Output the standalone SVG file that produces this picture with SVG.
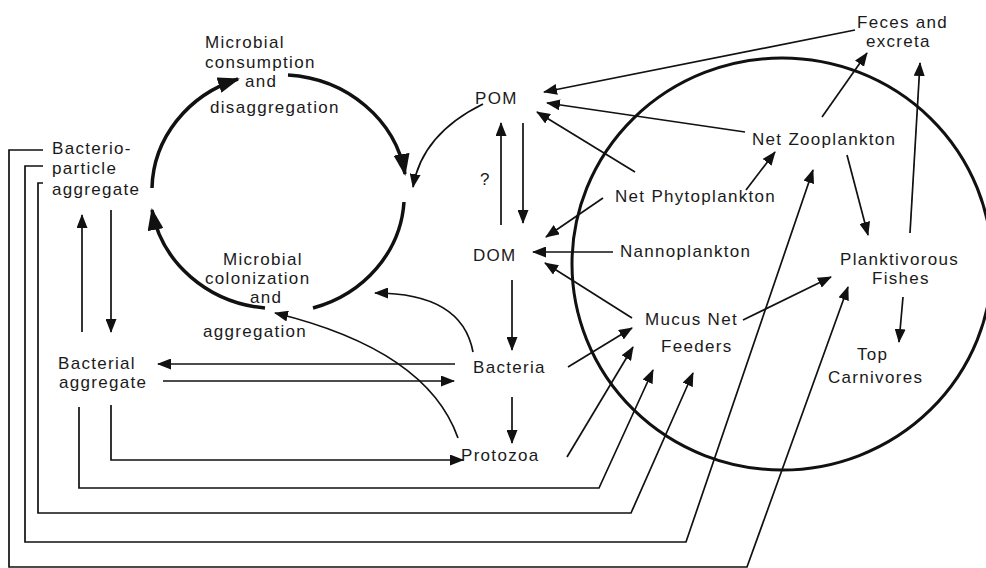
<svg xmlns="http://www.w3.org/2000/svg" width="986" height="568" viewBox="0 0 986 568">
<style>
text{font-family:"Liberation Sans",Arial,sans-serif;font-size:17px;letter-spacing:1.3px;fill:#1a1a1a}
.c{fill:none;stroke:#111;stroke-width:1.7}
.k{fill:none;stroke:#111;stroke-width:3.5}
.ring{fill:none;stroke:#111;stroke-width:3}
</style>
<defs>
<marker id="ah" viewBox="0 0 14 11" refX="13" refY="5.5" markerWidth="14" markerHeight="11" markerUnits="userSpaceOnUse" orient="auto"><path d="M0,0 L14,5.5 L0,11 z" fill="#111"/></marker>
<marker id="big" viewBox="0 0 22 16" refX="20" refY="8" markerWidth="22" markerHeight="16" markerUnits="userSpaceOnUse" orient="auto"><path d="M0,0 L22,8 L0,16 z" fill="#111"/></marker>
</defs>
<rect width="986" height="568" fill="#fff"/>
<ellipse class="ring" cx="782" cy="264" rx="210" ry="206"/>
<g id="connectors">
<path class="k" d="M152,188 A127,118 0 0,1 238,79" marker-end="url(#big)"/>
<path class="k" d="M288,75 A127,118 0 0,1 405,174" marker-end="url(#big)"/>
<path class="k" d="M404,202 A127,118 0 0,1 313,308"/>
<path class="k" d="M265,308 A127,118 0 0,1 152,210" marker-end="url(#big)"/>
<path class="c" d="M483,104 Q422,134 413,187" marker-end="url(#ah)"/>
<path class="c" d="M473,352 Q462,293 375,293" marker-end="url(#ah)"/>
<path class="c" d="M458,438 Q427,350 275,313" marker-end="url(#ah)"/>
<path class="c" d="M855,30 L544,92" marker-end="url(#ah)"/>
<path class="c" d="M745,132 L547,103" marker-end="url(#ah)"/>
<path class="c" d="M635,172 L537,112" marker-end="url(#ah)"/>
<path class="c" d="M603,198 L546,237" marker-end="url(#ah)"/>
<path class="c" d="M613,252 L533,252" marker-end="url(#ah)"/>
<path class="c" d="M632,318 L545,263" marker-end="url(#ah)"/>
<path class="c" d="M501,225 L501,123" marker-end="url(#ah)"/>
<path class="c" d="M523,123 L523,223" marker-end="url(#ah)"/>
<path class="c" d="M512,280 L512,350" marker-end="url(#ah)"/>
<path class="c" d="M512,397 L512,443" marker-end="url(#ah)"/>
<path class="c" d="M455,364 L158,364" marker-end="url(#ah)"/>
<path class="c" d="M163,381 L454,381" marker-end="url(#ah)"/>
<path class="c" d="M568,367 L632,328" marker-end="url(#ah)"/>
<path class="c" d="M567,457 L633,347" marker-end="url(#ah)"/>
<path class="c" d="M746,190 L775,152" marker-end="url(#ah)"/>
<path class="c" d="M822,117 L867,53" marker-end="url(#ah)"/>
<path class="c" d="M910,233 L920,63" marker-end="url(#ah)"/>
<path class="c" d="M847,155 L868,235" marker-end="url(#ah)"/>
<path class="c" d="M743,320 L831,277" marker-end="url(#ah)"/>
<path class="c" d="M903,297 L899,342" marker-end="url(#ah)"/>
<path class="c" d="M82,332 L82,215" marker-end="url(#ah)"/>
<path class="c" d="M111,210 L111,332" marker-end="url(#ah)"/>
<path class="c" d="M111,405 L111,460 L463,460" marker-end="url(#ah)"/>
<path class="c" d="M79,407 L79,488 L599,488 L653,370" marker-end="url(#ah)"/>
<path class="c" d="M43,183 L38,183 L38,513 L631,513 L693,373" marker-end="url(#ah)"/>
<path class="c" d="M43,166 L25,166 L25,542 L686,542 L813,170" marker-end="url(#ah)"/>
<path class="c" d="M43,150 L9,150 L9,567 L747,567 L848,287" marker-end="url(#ah)"/>
</g>
<g id="consumption"><text x="205" y="48">Microbial</text><text x="205" y="68">consumption</text><text x="245" y="87">and</text><text x="210" y="113">disaggregation</text></g>
<g id="colonization"><text x="223" y="265">Microbial</text><text x="205" y="284">colonization</text><text x="250" y="303">and</text><text x="203" y="337">aggregation</text></g>
<g id="bacterio-particle"><text x="52" y="154">Bacterio-</text><text x="52" y="174">particle</text><text x="52" y="195">aggregate</text></g>
<g id="bacterial-aggregate"><text x="58" y="369">Bacterial</text><text x="59" y="388">aggregate</text></g>
<g id="pom"><text x="475" y="104">POM</text></g>
<g id="question"><text x="480" y="185">?</text></g>
<g id="dom"><text x="473" y="261">DOM</text></g>
<g id="bacteria"><text x="473" y="373">Bacteria</text></g>
<g id="protozoa"><text x="461" y="461">Protozoa</text></g>
<g id="net-phytoplankton"><text x="615" y="202">Net Phytoplankton</text></g>
<g id="nannoplankton"><text x="620" y="257">Nannoplankton</text></g>
<g id="net-zooplankton"><text x="752" y="145">Net Zooplankton</text></g>
<g id="feces"><text x="857" y="28">Feces and</text><text x="866" y="47">excreta</text></g>
<g id="planktivorous"><text x="840" y="265">Planktivorous</text><text x="872" y="284">Fishes</text></g>
<g id="top-carnivores"><text x="857" y="360">Top</text><text x="828" y="383">Carnivores</text></g>
<g id="mucus"><text x="645" y="325">Mucus Net</text><text x="661" y="352">Feeders</text></g>
</svg>
